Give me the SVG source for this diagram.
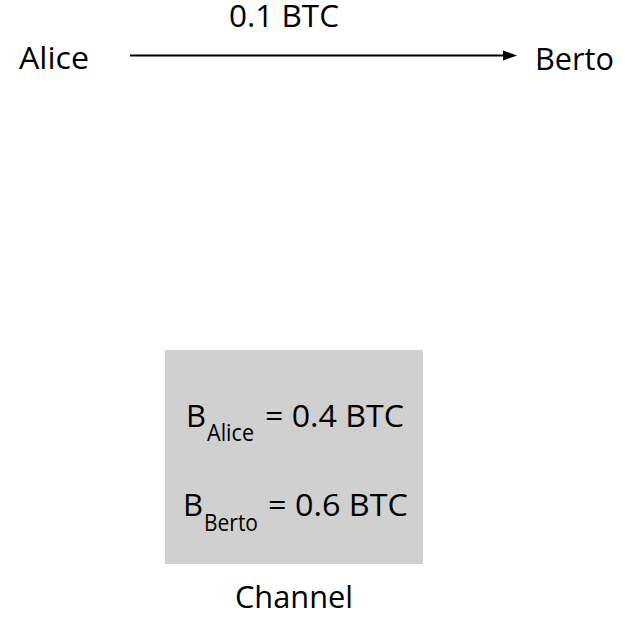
<svg xmlns="http://www.w3.org/2000/svg" width="631" height="619" viewBox="0 0 631 619">
  <style>
    text { font-family: "Open Sans", "Liberation Sans", sans-serif; fill: #000; }
    .lbl { font-size: 31px; }
    .sub { font-size: 23px; }
    .edge { stroke: #000; stroke-width: 2; fill: none; }
  </style>
  <rect width="631" height="619" fill="#fff"/>

  <g id="connectors">
    <line class="edge" x1="130" y1="55.5" x2="505" y2="55.5"/>
    <path d="M503,50.5 L517,55.5 L503,60.5 z" fill="#000"/>
    <text class="lbl" x="229" y="27" textLength="110" lengthAdjust="spacingAndGlyphs">0.1 BTC</text>
  </g>

  <g id="alice">
    <text class="lbl" x="19" y="69" textLength="70" lengthAdjust="spacingAndGlyphs">Alice</text>
  </g>

  <g id="berto">
    <text class="lbl" x="535" y="70" textLength="79" lengthAdjust="spacingAndGlyphs">Berto</text>
  </g>

  <g id="channel">
    <rect x="165" y="350" width="258" height="214" fill="#d0d0d0"/>
    <text class="lbl" x="186" y="427">B</text>
    <text class="sub" x="207" y="441" textLength="47" lengthAdjust="spacingAndGlyphs">Alice</text>
    <text class="lbl" x="265" y="427" textLength="139" lengthAdjust="spacingAndGlyphs">= 0.4 BTC</text>
    <text class="lbl" x="183" y="516">B</text>
    <text class="sub" x="204" y="531" textLength="54" lengthAdjust="spacingAndGlyphs">Berto</text>
    <text class="lbl" x="268" y="516" textLength="140" lengthAdjust="spacingAndGlyphs">= 0.6 BTC</text>
    <text class="lbl" x="235" y="608" textLength="118" lengthAdjust="spacingAndGlyphs">Channel</text>
  </g>
</svg>
